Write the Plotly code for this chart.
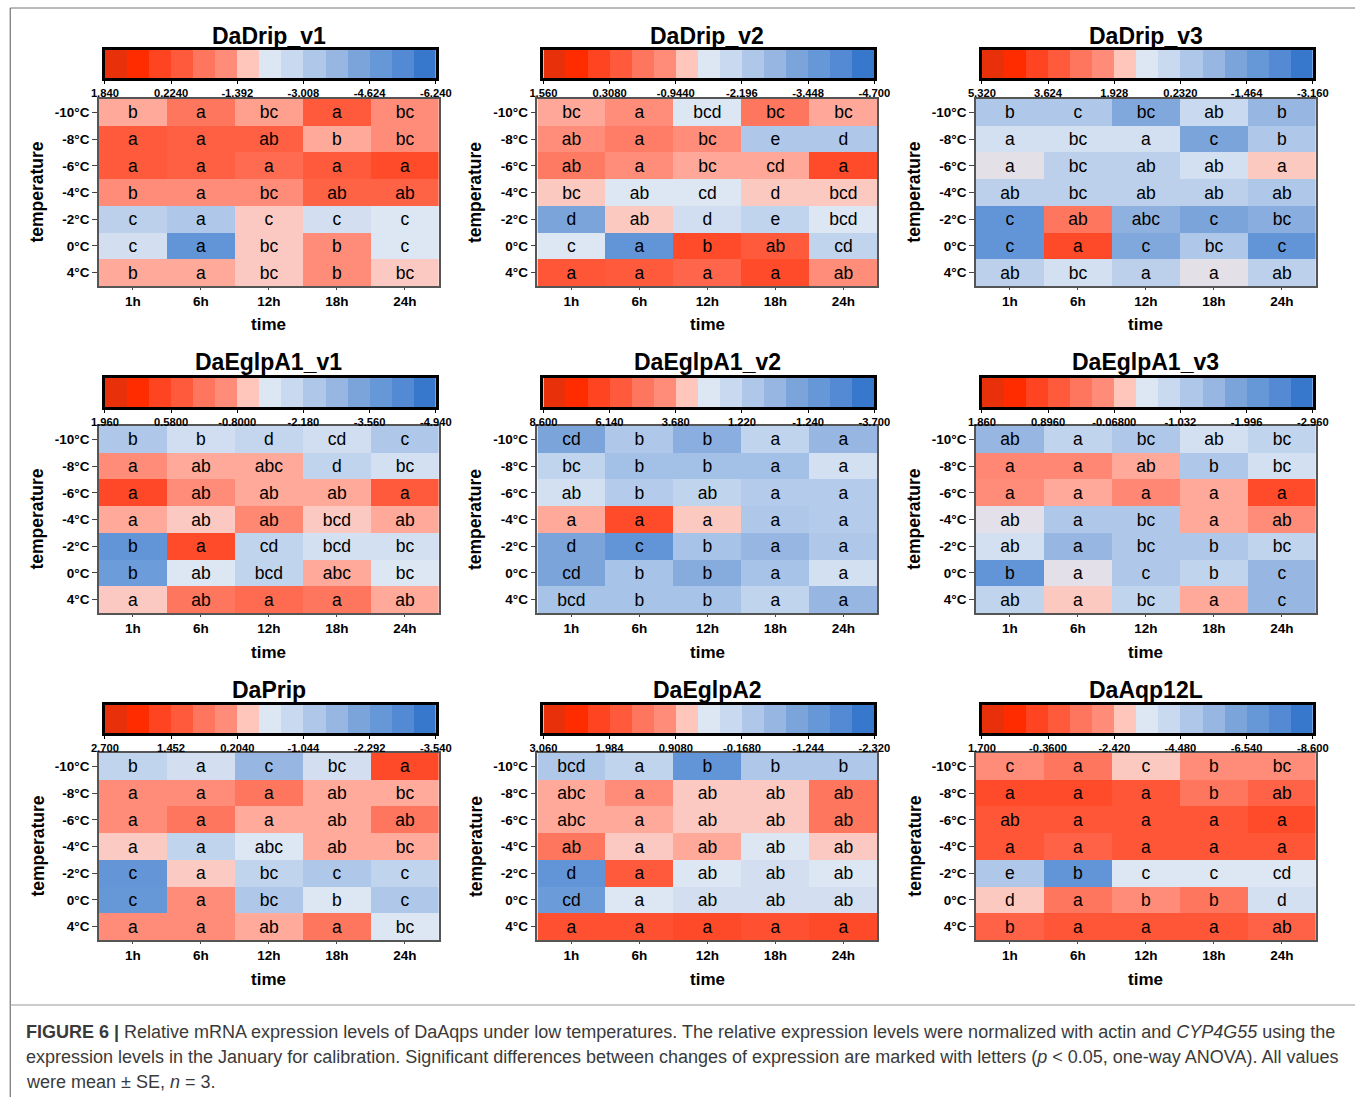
import plotly.graph_objects as go

W, H = 1355, 1097
FONT = "Arial, Liberation Sans, sans-serif"

temps = ["-10°C", "-8°C", "-6°C", "-4°C", "-2°C", "0°C", "4°C"]
times = ["1h", "6h", "12h", "18h", "24h"]
panel_names = ["DaDrip_v1", "DaDrip_v2", "DaDrip_v3",
               "DaEglpA1_v1", "DaEglpA1_v2", "DaEglpA1_v3",
               "DaPrip", "DaEglpA2", "DaAqp12L"]

# legend colours, left (high) to right (low)
legend_colors = ['#E8300A', '#FF2C00', '#FF4422', '#FF5A3C', '#FF765E', '#FF8C78', '#FFC6BC',
                 '#DDE6F3', '#C9D9EF', '#AFC8EA', '#97B7E2', '#7BA4DB', '#6698D8', '#5489D3', '#3777CC']

drip_v1_vals = [
    [-1.39, -0.58, -1.30, -0.05, -1.12],
    [-0.05, -0.15, -0.15, -1.39, -1.12],
    [-0.05, -0.15, -0.37, -0.05, 0.33],
    [-1.12, -1.12, -1.12, -0.21, -0.21],
    [-3.01, -3.28, -1.72, -2.47, -2.20],
    [-2.47, -5.00, -1.72, -1.12, -2.20],
    [-1.39, -1.39, -1.72, -1.12, -1.72],
]
drip_v2_vals = [
    [-0.94, -0.74, -1.57, -0.32, -0.94],
    [-0.74, -0.44, -0.74, -2.40, -2.40],
    [-0.40, -0.74, -0.94, -0.94, 0.39],
    [-1.19, -1.57, -1.57, -1.19, -1.19],
    [-3.24, -1.19, -1.82, -2.11, -1.57],
    [-1.57, -3.74, 0.39, 0.10, -2.11],
    [0.18, 0.10, -0.07, 0.39, -0.74],
]
drip_v3_vals = [
    [-0.05, -0.05, -1.07, 0.51, -0.62],
    [0.80, 0.80, 0.80, -1.18, -0.05],
    [1.19, 0.23, 0.23, 0.80, 1.59],
    [0.23, 0.23, 0.23, 0.23, -0.05],
    [-1.86, 2.78, -0.79, -1.18, -0.90],
    [-1.86, 3.74, -1.07, -0.05, -1.86],
    [0.23, 0.80, 0.23, 1.19, 0.23],
]
eglpa1_v1_vals = [
    [-2.41, -1.77, -2.04, -1.77, -2.41],
    [-0.57, -0.80, -0.80, -2.09, -1.72],
    [0.72, -0.57, -0.80, -0.80, 0.35],
    [-0.80, -1.08, -0.48, -1.08, -0.80],
    [-3.88, 0.67, -2.09, -1.72, -1.72],
    [-3.65, -1.49, -2.09, -0.80, -1.49],
    [-1.08, -0.11, 0.07, -0.11, -0.80],
]
eglpa1_v2_vals = [
    [-0.83, 0.81, -0.42, 1.38, -0.01],
    [1.38, 0.40, 0.40, 0.40, 2.04],
    [2.04, 0.97, 1.38, 0.97, 0.97],
    [3.68, 6.30, 3.19, 0.81, 0.97],
    [-0.83, -1.81, 0.56, -0.01, 0.81],
    [-0.83, 0.56, -0.50, 0.56, 2.04],
    [0.56, 0.56, 0.56, 1.38, -0.01],
]
eglpa1_v3_vals = [
    [-1.51, -0.97, -1.19, -0.71, -0.97],
    [0.16, 0.16, -0.07, -1.19, -0.71],
    [0.09, -0.07, 0.16, -0.07, 0.96],
    [-0.49, -1.19, -1.19, -0.07, 0.09],
    [-0.71, -1.51, -1.19, -1.19, -0.97],
    [-2.22, -0.49, -1.19, -0.97, -1.51],
    [-0.97, -0.26, -0.97, -0.07, -1.51],
]
prip_vals = [
    [-0.96, -0.63, -1.67, -0.63, 1.54],
    [0.41, 0.41, 0.83, 0.20, 0.20],
    [0.41, 0.83, 0.20, 0.20, 0.83],
    [-0.05, -0.96, -0.42, 0.20, 0.20],
    [-2.58, -0.05, -0.96, -1.25, -0.96],
    [-2.50, 0.41, -1.25, -0.42, -1.25],
    [0.41, 0.41, 0.20, 0.83, -0.42],
]
eglpa2_vals = [
    [-0.35, -0.10, -1.50, -0.35, -0.35],
    [0.91, 1.09, 0.69, 0.69, 1.45],
    [0.91, 0.91, 0.69, 0.69, 1.45],
    [1.45, 0.69, 0.91, 0.37, 0.69],
    [-1.50, 1.81, 0.37, 0.19, 0.37],
    [-1.32, 0.37, 0.19, 0.19, 0.19],
    [1.95, 1.95, 2.06, 1.95, 2.06],
]
aqp12l_vals = [
    [-2.08, -1.39, -2.83, -2.08, -2.08],
    [-0.22, -0.22, -0.57, -1.39, -0.91],
    [-0.57, -0.57, -0.57, -0.57, -0.22],
    [-0.57, -0.91, -0.57, -0.57, -0.57],
    [-4.82, -7.02, -3.45, -3.45, -3.45],
    [-2.83, -1.39, -2.08, -1.39, -3.79],
    [-0.91, -0.57, -0.57, -0.57, -0.91],
]

drip_v1_letters = [["b", "a", "bc", "a", "bc"], ["a", "a", "ab", "b", "bc"], ["a", "a", "a", "a", "a"],
                   ["b", "a", "bc", "ab", "ab"], ["c", "a", "c", "c", "c"], ["c", "a", "bc", "b", "c"],
                   ["b", "a", "bc", "b", "bc"]]
drip_v2_letters = [["bc", "a", "bcd", "bc", "bc"], ["ab", "a", "bc", "e", "d"], ["ab", "a", "bc", "cd", "a"],
                   ["bc", "ab", "cd", "d", "bcd"], ["d", "ab", "d", "e", "bcd"], ["c", "a", "b", "ab", "cd"],
                   ["a", "a", "a", "a", "ab"]]
drip_v3_letters = [["b", "c", "bc", "ab", "b"], ["a", "bc", "a", "c", "b"], ["a", "bc", "ab", "ab", "a"],
                   ["ab", "bc", "ab", "ab", "ab"], ["c", "ab", "abc", "c", "bc"], ["c", "a", "c", "bc", "c"],
                   ["ab", "bc", "a", "a", "ab"]]
eglpa1_v1_letters = [["b", "b", "d", "cd", "c"], ["a", "ab", "abc", "d", "bc"], ["a", "ab", "ab", "ab", "a"],
                     ["a", "ab", "ab", "bcd", "ab"], ["b", "a", "cd", "bcd", "bc"], ["b", "ab", "bcd", "abc", "bc"],
                     ["a", "ab", "a", "a", "ab"]]
eglpa1_v2_letters = [["cd", "b", "b", "a", "a"], ["bc", "b", "b", "a", "a"], ["ab", "b", "ab", "a", "a"],
                     ["a", "a", "a", "a", "a"], ["d", "c", "b", "a", "a"], ["cd", "b", "b", "a", "a"],
                     ["bcd", "b", "b", "a", "a"]]
eglpa1_v3_letters = [["ab", "a", "bc", "ab", "bc"], ["a", "a", "ab", "b", "bc"], ["a", "a", "a", "a", "a"],
                     ["ab", "a", "bc", "a", "ab"], ["ab", "a", "bc", "b", "bc"], ["b", "a", "c", "b", "c"],
                     ["ab", "a", "bc", "a", "c"]]
prip_letters = [["b", "a", "c", "bc", "a"], ["a", "a", "a", "ab", "bc"], ["a", "a", "a", "ab", "ab"],
                ["a", "a", "abc", "ab", "bc"], ["c", "a", "bc", "c", "c"], ["c", "a", "bc", "b", "c"],
                ["a", "a", "ab", "a", "bc"]]
eglpa2_letters = [["bcd", "a", "b", "b", "b"], ["abc", "a", "ab", "ab", "ab"], ["abc", "a", "ab", "ab", "ab"],
                  ["ab", "a", "ab", "ab", "ab"], ["d", "a", "ab", "ab", "ab"], ["cd", "a", "ab", "ab", "ab"],
                  ["a", "a", "a", "a", "a"]]
aqp12l_letters = [["c", "a", "c", "b", "bc"], ["a", "a", "a", "b", "ab"], ["ab", "a", "a", "a", "a"],
                  ["a", "a", "a", "a", "a"], ["e", "b", "c", "c", "cd"], ["d", "a", "b", "b", "d"],
                  ["b", "a", "a", "a", "ab"]]

drip_v1_ticks = ["1.840", "0.2240", "-1.392", "-3.008", "-4.624", "-6.240"]
drip_v2_ticks = ["1.560", "0.3080", "-0.9440", "-2.196", "-3.448", "-4.700"]
drip_v3_ticks = ["5.320", "3.624", "1.928", "0.2320", "-1.464", "-3.160"]
eglpa1_v1_ticks = ["1.960", "0.5800", "-0.8000", "-2.180", "-3.560", "-4.940"]
eglpa1_v2_ticks = ["8.600", "6.140", "3.680", "1.220", "-1.240", "-3.700"]
eglpa1_v3_ticks = ["1.860", "0.8960", "-0.06800", "-1.032", "-1.996", "-2.960"]
prip_ticks = ["2.700", "1.452", "0.2040", "-1.044", "-2.292", "-3.540"]
eglpa2_ticks = ["3.060", "1.984", "0.9080", "-0.1680", "-1.244", "-2.320"]
aqp12l_ticks = ["1.700", "-0.3600", "-2.420", "-4.480", "-6.540", "-8.600"]

all_vals = [drip_v1_vals, drip_v2_vals, drip_v3_vals, eglpa1_v1_vals, eglpa1_v2_vals,
            eglpa1_v3_vals, prip_vals, eglpa2_vals, aqp12l_vals]
all_letters = [drip_v1_letters, drip_v2_letters, drip_v3_letters, eglpa1_v1_letters, eglpa1_v2_letters,
               eglpa1_v3_letters, prip_letters, eglpa2_letters, aqp12l_letters]
all_ticks = [drip_v1_ticks, drip_v2_ticks, drip_v3_ticks, eglpa1_v1_ticks, eglpa1_v2_ticks,
             eglpa1_v3_ticks, prip_ticks, eglpa2_ticks, aqp12l_ticks]

# continuous colour scale: legend colours placed at block centres (low value = blue)
nb = len(legend_colors)
cscale = [[0.0, legend_colors[-1]]]
for i in range(nb - 1, -1, -1):
    cscale.append([1 - (i + 0.5) / nb, legend_colors[i]])
cscale.append([1.0, legend_colors[0]])

# layout geometry (target pixels on the final picture)
heat_x = [(97, 438), (537, 878), (977, 1318)]
bar_x = [(103, 435), (543, 875), (983, 1315)]
heat_y = [(99, 286), (426, 613), (753, 940)]
bar_y = [(50, 78), (378, 407), (705, 733)]
title_y = [36, 362, 690]
time_y = [325, 652, 979]
temp_x = [35, 475, 915]

# horizontal correction observed for the rendering page (picture x = XS * paper px + X0)
XS, X0 = 0.9812, 11.8


def px(x):
    return (x - X0) / XS / W


def py(y):
    return 1 - y / H


def xd(a, b):
    return [max(0.0, px(a)), min(1.0, px(b))]


def yd(top, bottom):
    return [py(bottom), py(top)]


fig = go.Figure()
annotations = []
layout_axes = {}

for p in range(9):
    r, c = divmod(p, 3)
    zmax = float(all_ticks[p][0])
    zmin = float(all_ticks[p][-1])
    hn = 2 * p + 1
    bn = 2 * p + 2
    hx = "x" if hn == 1 else f"x{hn}"
    hy = "y" if hn == 1 else f"y{hn}"
    bx, by = f"x{bn}", f"y{bn}"

    fig.add_trace(go.Heatmap(
        z=all_vals[p], x=times, y=temps, text=all_letters[p], texttemplate="%{text}",
        textfont=dict(family=FONT, size=17.5, color="black"),
        colorscale=cscale, zmin=zmin, zmax=zmax, showscale=False,
        xaxis=hx, yaxis=hy, hoverinfo="skip"))

    # legend bar as its own heatmap on a reversed value axis
    step = (zmax - zmin) / nb
    centers = [zmax - (i + 0.5) * step for i in range(nb)]
    fig.add_trace(go.Heatmap(
        z=[centers], x=centers, y=[0], colorscale=cscale, zmin=zmin, zmax=zmax,
        showscale=False, xaxis=bx, yaxis=by, hoverinfo="skip"))

    hxk = "xaxis" if hn == 1 else f"xaxis{hn}"
    hyk = "yaxis" if hn == 1 else f"yaxis{hn}"
    layout_axes[hxk] = dict(
        domain=xd(*heat_x[c]), anchor=hy, type="category", categoryorder="array",
        categoryarray=times, ticks="outside", ticklen=2, tickcolor="#444",
        tickfont=dict(family=FONT, size=13.5, color="black", weight="bold"),
        showline=True, mirror=True, linecolor="#555", linewidth=1.5,
        showgrid=False, zeroline=False, fixedrange=True)
    layout_axes[hyk] = dict(
        domain=yd(*heat_y[r]), anchor=hx, type="category", categoryorder="array",
        categoryarray=temps, autorange="reversed", ticks="outside", ticklen=5,
        tickcolor="#444", tickfont=dict(family=FONT, size=13.5, color="black", weight="bold"),
        showline=True, mirror=True, linecolor="#555", linewidth=1.5,
        showgrid=False, zeroline=False, fixedrange=True)
    layout_axes[f"xaxis{bn}"] = dict(
        domain=xd(*bar_x[c]), anchor=by, range=[zmax, zmin],
        tickvals=[float(t) for t in all_ticks[p]], ticktext=all_ticks[p],
        ticks="outside", ticklen=3, tickcolor="black", tickwidth=1,
        tickfont=dict(family=FONT, size=11.2, color="black", weight="bold"),
        showline=True, mirror=True, linecolor="black", linewidth=2.5,
        showgrid=False, zeroline=False, fixedrange=True)
    layout_axes[f"yaxis{bn}"] = dict(
        domain=yd(*bar_y[r]), anchor=bx, range=[-0.5, 0.5], showticklabels=False,
        ticks="", showline=True, mirror=True, linecolor="black", linewidth=2.5,
        showgrid=False, zeroline=False, fixedrange=True)

    cx = (heat_x[c][0] + heat_x[c][1]) / 2
    annotations.append(dict(x=px(cx), y=py(title_y[r]), xref="paper", yref="paper",
                            text=f"<b>{panel_names[p]}</b>", showarrow=False,
                            font=dict(family=FONT, size=23, color="black"),
                            xanchor="center", yanchor="middle"))
    annotations.append(dict(x=px(cx), y=py(time_y[r]), xref="paper", yref="paper",
                            text="<b>time</b>", showarrow=False,
                            font=dict(family=FONT, size=17, color="black"),
                            xanchor="center", yanchor="middle"))
    annotations.append(dict(x=px(temp_x[c]), y=py((heat_y[r][0] + heat_y[r][1]) / 2),
                            xref="paper", yref="paper", text="<b>temperature</b>",
                            showarrow=False, textangle=-90,
                            font=dict(family=FONT, size=17.5, color="black"),
                            xanchor="center", yanchor="middle"))

caption_lines = [
    "<b>FIGURE 6 |</b> Relative mRNA expression levels of DaAqps under low temperatures. "
    "The relative expression levels were normalized with actin and <i>CYP4G55</i> using the",
    "expression levels in the January for calibration. Significant differences between changes "
    "of expression are marked with letters (<i>p</i> &lt; 0.05, one-way ANOVA). All values",
    "were mean ± SE, <i>n</i> = 3.",
]
caption_y = [1032, 1057, 1082]
for line, yy in zip(caption_lines, caption_y):
    annotations.append(dict(x=px(22), y=py(yy), xref="paper", yref="paper", text=line,
                            showarrow=False, xanchor="left", yanchor="middle", align="left",
                            font=dict(family=FONT, size=18, color="#3a3a3a")))

shapes = [
    dict(type="line", xref="paper", yref="paper", x0=px(8), x1=px(1360), y0=py(8), y1=py(8),
         line=dict(color="#777", width=1)),
    dict(type="line", xref="paper", yref="paper", x0=px(8), x1=px(8), y0=py(8), y1=0,
         line=dict(color="#555", width=1)),
    dict(type="line", xref="paper", yref="paper", x0=px(8), x1=px(1360), y0=py(1005), y1=py(1005),
         line=dict(color="#999", width=1)),
]

fig.update_layout(
    width=W, height=H, margin=dict(l=0, r=0, t=0, b=0), autosize=False,
    paper_bgcolor="white", plot_bgcolor="white",
    font=dict(family=FONT, color="black"),
    annotations=annotations, shapes=shapes, showlegend=False,
    **layout_axes)

fig.write_html(
    "out.html",
    config={"responsive": False, "displayModeBar": False},
    post_script="document.body.style.margin='0';document.body.style.padding='0';"
                "document.body.style.overflow='hidden';"
                "document.documentElement.style.overflow='hidden';",
)
